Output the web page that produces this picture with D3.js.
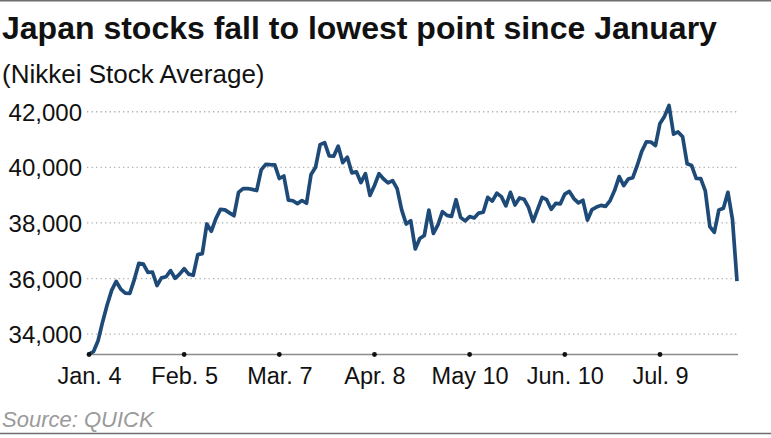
<!DOCTYPE html>
<html>
<head>
<meta charset="utf-8">
<script src="https://cdn.jsdelivr.net/npm/d3@7/dist/d3.min.js"></script>
<style>
  html, body { margin: 0; padding: 0; background: #fff; }
  svg { display: block; font-family: "Liberation Sans", Arial, sans-serif; }
</style>
</head>
<body>
<svg id="chart" width="771" height="438"></svg>
<script>
// Trading-day dates (Jan 4 – Aug 2, 2024) and Nikkei closes
const dates = [
  "Jan. 4","Jan. 5","Jan. 9","Jan. 10","Jan. 11","Jan. 12","Jan. 15","Jan. 16","Jan. 17","Jan. 18","Jan. 19",
  "Jan. 22","Jan. 23","Jan. 24","Jan. 25","Jan. 26","Jan. 29","Jan. 30","Jan. 31","Feb. 1","Feb. 2",
  "Feb. 5","Feb. 6","Feb. 7","Feb. 8","Feb. 9","Feb. 13","Feb. 14","Feb. 15","Feb. 16","Feb. 19",
  "Feb. 20","Feb. 21","Feb. 22","Feb. 26","Feb. 27","Feb. 28","Feb. 29","Mar. 1","Mar. 4","Mar. 5","Mar. 6",
  "Mar. 7","Mar. 8","Mar. 11","Mar. 12","Mar. 13","Mar. 14","Mar. 15","Mar. 18","Mar. 19","Mar. 21",
  "Mar. 22","Mar. 25","Mar. 26","Mar. 27","Mar. 28","Mar. 29","Apr. 1","Apr. 2","Apr. 3","Apr. 4","Apr. 5",
  "Apr. 8","Apr. 9","Apr. 10","Apr. 11","Apr. 12","Apr. 15","Apr. 16","Apr. 17","Apr. 18","Apr. 19",
  "Apr. 22","Apr. 23","Apr. 24","Apr. 25","Apr. 26","Apr. 30","May 1","May 2","May 7","May 8","May 9",
  "May 10","May 13","May 14","May 15","May 16","May 17","May 20","May 21","May 22","May 23","May 24",
  "May 27","May 28","May 29","May 30","May 31","Jun. 3","Jun. 4","Jun. 5","Jun. 6","Jun. 7",
  "Jun. 10","Jun. 11","Jun. 12","Jun. 13","Jun. 14","Jun. 17","Jun. 18","Jun. 19","Jun. 20","Jun. 21",
  "Jun. 24","Jun. 25","Jun. 26","Jun. 27","Jun. 28","Jul. 1","Jul. 2","Jul. 3","Jul. 4","Jul. 5","Jul. 8",
  "Jul. 9","Jul. 10","Jul. 11","Jul. 12","Jul. 16","Jul. 17","Jul. 18","Jul. 19","Jul. 22","Jul. 23",
  "Jul. 24","Jul. 25","Jul. 26","Jul. 29","Jul. 30","Jul. 31","Aug. 1","Aug. 2"
];
const nikkei = [
  33288,33377,33763,34442,35050,35577,35902,35619,35478,35466,35963,
  36547,36518,36226,36236,35751,36027,36066,36287,36011,36158,
  36354,36161,36120,36863,36897,37964,37703,38158,38487,38470,
  38364,38262,39099,39234,39240,39208,39166,39911,40109,40098,40091,
  39599,39689,38820,38798,38696,38807,38708,39740,40004,40816,
  40888,40414,40398,40763,40168,40369,39803,39839,39452,39773,38992,
  39347,39773,39582,39443,39524,39233,38471,37962,38080,37068,
  37439,37552,38460,37628,37935,38406,38274,38236,38835,38202,38074,
  38229,38179,38356,38386,38920,38787,39070,38947,38617,39103,38646,
  38900,38855,38557,38054,38488,38923,38837,38490,38704,38684,
  39038,39135,38877,38720,38815,38102,38482,38571,38633,38596,
  38805,39173,39667,39342,39583,39631,40075,40581,40914,40912,40781,
  41580,41832,42224,41191,41275,41098,40126,40064,39599,39594,
  39155,37870,37667,38469,38526,39102,38126,35910
];
const yTicks = [34000, 36000, 38000, 40000, 42000];
const xTickLabels = ["Jan. 4","Feb. 5","Mar. 7","Apr. 8","May 10","Jun. 10","Jul. 9"];

const titleText = "Japan stocks fall to lowest point since January";
const subtitleText = "(Nikkei Stock Average)";
const sourceText = "Source: QUICK";

const svg = d3.select("#chart");
const W = 771, H = 438;

// borders
svg.append("line").attr("x1",0).attr("x2",W).attr("y1",0.75).attr("y2",0.75)
  .attr("stroke","#6e6e6e").attr("stroke-width",1.5);
svg.append("line").attr("x1",0).attr("x2",W).attr("y1",433.5).attr("y2",433.5)
  .attr("stroke","#6e6e6e").attr("stroke-width",1.5);

// titles
svg.append("text").attr("x",2).attr("y",38.5)
  .attr("font-size",32).attr("font-weight","bold").attr("fill","#111")
  .text(titleText);
svg.append("text").attr("x",2).attr("y",83)
  .attr("font-size",26).attr("fill","#111")
  .text(subtitleText);

const x = d3.scaleLinear().domain([0, nikkei.length - 1]).range([89, 737]);
const y = d3.scaleLinear().domain(d3.extent(nikkei)).range([354, 105.5]);

// gridlines
const grid = svg.append("g");
grid.selectAll("line").data(yTicks).join("line")
  .attr("x1",87).attr("x2",737)
  .attr("y1",d=>y(d)).attr("y2",d=>y(d))
  .attr("stroke","#b0b0b0").attr("stroke-width",1.3)
  .attr("stroke-dasharray","1.3,3.2");

// y labels via axis
const yAxis = d3.axisLeft(y).tickValues(yTicks).tickFormat(d3.format(",")).tickSize(0).tickPadding(0);
const yg = svg.append("g").attr("transform","translate(82,0)").call(yAxis);
yg.select(".domain").remove();
yg.selectAll("text").attr("font-size",24).attr("fill","#111")
  .attr("font-family","'Liberation Sans', Arial, sans-serif").attr("dy","0.36em");

// x axis
const tickIdx = xTickLabels.map(l => dates.indexOf(l));
const xAxis = d3.axisBottom(x).tickValues(tickIdx).tickFormat(i => dates[i]).tickSize(0).tickPadding(0);
const xg = svg.append("g").attr("transform","translate(0,354.5)").call(xAxis);
xg.select(".domain").remove();
xg.selectAll("text").attr("font-size",23.5).attr("fill","#111")
  .attr("font-family","'Liberation Sans', Arial, sans-serif").attr("dy",0).attr("y",29.5);

svg.append("line").attr("x1",x(0)).attr("x2",738).attr("y1",354.5).attr("y2",354.5)
  .attr("stroke","#8a8a8a").attr("stroke-width",1.5);

// line
const line = d3.line().x((d,i)=>x(i)).y(d=>y(d));
svg.append("path").datum(nikkei)
  .attr("d",line).attr("fill","none")
  .attr("stroke","#1e4a78").attr("stroke-width",3.7)
  .attr("stroke-linejoin","round").attr("stroke-linecap","butt");

// tick dots
svg.append("g").selectAll("circle").data(tickIdx).join("circle")
  .attr("cx",d=>x(d)).attr("cy",354.5).attr("r",2.4).attr("fill","#111");

// source
svg.append("text").attr("x",2).attr("y",426.5)
  .attr("font-size",22).attr("font-style","italic").attr("fill","#9a9a9a")
  .text(sourceText);
</script>
</body>
</html>
